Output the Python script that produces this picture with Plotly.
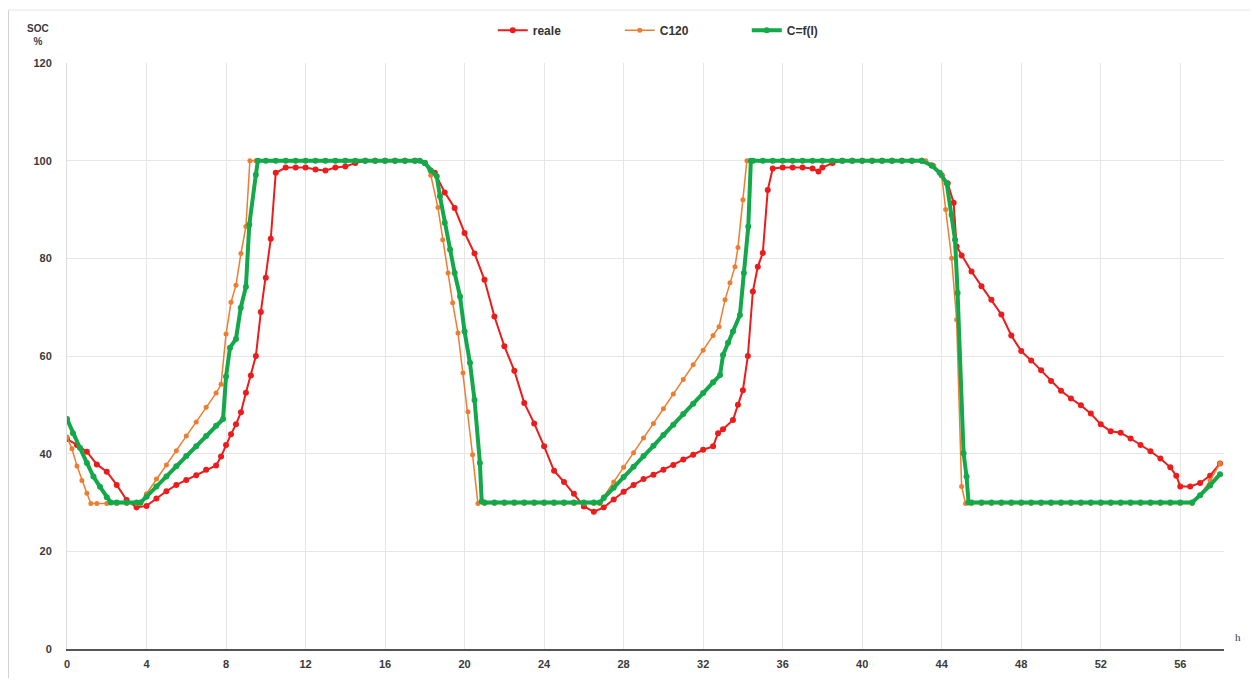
import plotly.graph_objects as go

# ---- data (time in h, SOC in %) ----
reale_t = [0, 0.5, 1, 1.5, 2, 2.5, 3, 3.5, 4, 4.5, 5, 5.5, 6, 6.5, 7, 7.5, 7.75, 8, 8.25, 8.5,
           8.75, 9, 9.25, 9.5, 9.75, 10, 10.25, 10.5, 11, 11.5, 12, 12.5, 13, 13.5, 14, 14.5,
           15, 15.5, 16, 16.5, 17, 17.5, 18, 18.5, 19, 19.5, 20, 20.5, 21, 21.5, 22, 22.5,
           23, 23.5, 24, 24.5, 25, 25.5, 26, 26.5, 27, 27.5, 28, 28.5, 29, 29.5, 30, 30.5,
           31, 31.5, 32, 32.5, 32.75, 33, 33.5, 33.75, 34, 34.25, 34.5, 34.75, 35, 35.25,
           35.5, 36, 36.5, 37, 37.5, 37.8, 38, 38.5, 39, 39.5, 40, 40.5, 41, 41.5, 42, 42.5,
           43, 43.5, 44, 44.3, 44.6, 44.75, 45, 45.5, 46, 46.5, 47, 47.5, 48, 48.5, 49, 49.5,
           50, 50.5, 51, 51.5, 52, 52.5, 53, 53.5, 54, 54.5, 55, 55.5, 55.8, 56, 56.5, 57,
           57.5, 58]
reale_v = [43, 41.8, 40.4, 37.8, 36.3, 33.6, 30.5, 29.0, 29.3, 30.8, 32.3, 33.6, 34.6, 35.6,
           36.7, 37.6, 39.4, 41.8, 44.0, 46.0, 48.5, 52.5, 56.0, 60.0, 69.0, 76.0, 84.0, 97.5,
           98.6, 98.6, 98.6, 98.2, 98.0, 98.6, 98.8, 99.5, 100, 100, 100, 100, 100, 100, 99.5,
           97.5, 93.5, 90.3, 85.2, 81.0, 75.6, 68.1, 62.0, 57.0, 50.4, 46.2, 41.5, 36.5, 34.2,
           31.8, 29.2, 28.1, 29.0, 30.6, 32.2, 33.6, 34.8, 35.7, 36.7, 37.7, 38.8, 39.8, 40.8,
           41.5, 44.2, 45.0, 46.9, 50.0, 53.0, 60.0, 73.2, 78.3, 81.1, 94.0, 98.4, 98.6, 98.6,
           98.6, 98.4, 97.8, 98.6, 99.5, 100, 100, 100, 100, 100, 100, 100, 100, 100, 99.0,
           97.0, 95.4, 91.4, 82.4, 80.6, 77.3, 74.3, 71.5, 68.5, 64.2, 61.0, 59.1, 57.1, 54.9,
           52.9, 51.3, 49.9, 48.2, 46.0, 44.6, 44.3, 43.1, 41.8, 40.5, 39.0, 37.2, 35.5, 33.3,
           33.3, 34.0, 35.5, 38.0]

c120_t = [0, 0.25, 0.5, 0.75, 1, 1.2, 1.5, 2, 2.5, 3, 3.5, 3.7, 4, 4.5, 5, 5.5, 6, 6.5, 7,
          7.5, 7.75, 8, 8.25, 8.5, 8.75, 9, 9.2, 9.5, 10, 10.5, 11, 11.5, 12, 12.5, 13, 13.5,
          14, 14.5, 15, 15.5, 16, 16.5, 17, 17.5, 17.75, 18, 18.3, 18.66, 18.9, 19.17, 19.4,
          19.67, 19.92, 20.17, 20.4, 20.67, 21, 21.5, 22, 22.5, 23, 23.5, 24, 24.5, 25, 25.5,
          26, 26.5, 26.8, 27, 27.5, 28, 28.5, 29, 29.5, 30, 30.5, 31, 31.5, 32, 32.5, 32.8,
          33.1, 33.35, 33.6, 33.75, 34, 34.2, 34.5, 35, 35.5, 36, 36.5, 37, 37.5, 38, 38.5,
          39, 39.5, 40, 40.5, 41, 41.5, 42, 42.5, 43, 43.2, 43.6, 44, 44.2, 44.5, 44.75, 45,
          45.2, 45.5, 46, 46.5, 47, 47.5, 48, 48.5, 49, 49.5, 50, 50.5, 51, 51.5, 52, 52.5,
          53, 53.5, 54, 54.5, 55, 55.5, 56, 56.6, 57, 57.5, 58]
c120_v = [43.4, 41.0, 37.5, 34.5, 31.9, 29.8, 29.8, 29.8, 29.8, 29.8, 29.8, 29.8, 31.8, 34.8,
          37.7, 40.6, 43.6, 46.5, 49.5, 52.4, 54.2, 64.5, 71.0, 74.5, 81.0, 86.5, 100, 100,
          100, 100, 100, 100, 100, 100, 100, 100, 100, 100, 100, 100, 100, 100, 100, 100, 100,
          99.5, 97.0, 90.4, 83.8, 77.0, 70.9, 64.7, 56.5, 48.6, 39.8, 29.8, 29.8, 29.8, 29.8,
          29.8, 29.8, 29.8, 29.8, 29.8, 29.8, 29.8, 29.8, 29.8, 29.8, 31.2, 34.2, 37.2, 40.2,
          43.2, 46.2, 49.2, 52.2, 55.2, 58.2, 61.2, 64.2, 66.0, 71.5, 75.0, 78.3, 82.2, 92.0,
          100, 100, 100, 100, 100, 100, 100, 100, 100, 100, 100, 100, 100, 100, 100, 100, 100,
          100, 100, 100, 99.0, 97.0, 90.0, 80.0, 67.4, 33.3, 29.8, 29.8, 29.8, 29.8, 29.8,
          29.8, 29.8, 29.8, 29.8, 29.8, 29.8, 29.8, 29.8, 29.8, 29.8, 29.8, 29.8, 29.8, 29.8,
          29.8, 29.8, 29.8, 29.8, 29.8, 31.5, 34.5, 38.0]

cfi_t = [0, 0.3, 0.65, 1, 1.33, 1.66, 2, 2.2, 2.5, 3, 3.5, 3.7, 4, 4.5, 5, 5.5, 6, 6.5, 7,
         7.5, 7.85, 8, 8.2, 8.5, 8.74, 9, 9.17, 9.5, 9.6, 10, 10.5, 11, 11.5, 12, 12.5, 13,
         13.5, 14, 14.5, 15, 15.5, 16, 16.5, 17, 17.5, 17.75, 18, 18.3, 18.6, 18.76, 19,
         19.27, 19.5, 19.77, 20, 20.27, 20.5, 20.77, 20.86, 21, 21.5, 22, 22.5, 23, 23.5, 24,
         24.5, 25, 25.5, 26, 26.5, 26.8, 27, 27.5, 28, 28.5, 29, 29.5, 30, 30.5, 31, 31.5, 32,
         32.5, 32.85, 33, 33.25, 33.5, 33.85, 34.05, 34.27, 34.4, 34.5, 35, 35.5, 36, 36.5,
         37, 37.5, 38, 38.5, 39, 39.5, 40, 40.5, 41, 41.5, 42, 42.5, 43, 43.5, 43.9, 44.25,
         44.5, 44.67, 44.8, 45.1, 45.25, 45.35, 45.5, 46, 46.5, 47, 47.5, 48, 48.5, 49, 49.5,
         50, 50.5, 51, 51.5, 52, 52.5, 53, 53.5, 54, 54.5, 55, 55.5, 56, 56.6, 57, 57.5, 58]
cfi_v = [47.1, 44.2, 41.2, 38.1, 35.3, 33.2, 31.1, 30, 30, 30, 30, 30, 31.2, 33.3, 35.3, 37.4,
         39.5, 41.5, 43.6, 45.7, 47.1, 55.8, 61.7, 63.5, 69.9, 74.2, 86.9, 97.1, 100, 100, 100,
         100, 100, 100, 100, 100, 100, 100, 100, 100, 100, 100, 100, 100, 100, 100, 99.5, 98.0,
         96.8, 92.7, 87.3, 81.8, 77.0, 72.2, 65.0, 58.6, 51.0, 38.1, 30.2, 30, 30, 30, 30, 30,
         30, 30, 30, 30, 30, 30, 30, 30, 30.9, 33.0, 35.2, 37.3, 39.5, 41.6, 43.8, 45.9, 48.1,
         50.2, 52.4, 54.6, 56.1, 60.2, 62.7, 65.0, 68.4, 77.0, 86.5, 100, 100, 100, 100, 100,
         100, 100, 100, 100, 100, 100, 100, 100, 100, 100, 100, 100, 100, 100, 99.0, 97.5,
         95.4, 88.9, 83.8, 72.9, 40.1, 35.3, 30, 30, 30, 30, 30, 30, 30, 30, 30, 30, 30, 30,
         30, 30, 30, 30, 30, 30, 30, 30, 30, 30, 30, 30, 31.5, 33.5, 35.8]

x_ticks = [0, 4, 8, 12, 16, 20, 24, 28, 32, 36, 40, 44, 48, 52, 56]
y_ticks = [0, 20, 40, 60, 80, 100, 120]

RED = "#ec1c1c"
ORANGE = "#ed7d31"
GREEN = "#13a84a"

fig = go.Figure()
fig.add_trace(go.Scatter(x=reale_t, y=reale_v, name="reale", mode="lines+markers",
                         line=dict(color=RED, width=2),
                         marker=dict(color=RED, size=6, symbol="circle")))
fig.add_trace(go.Scatter(x=c120_t, y=c120_v, name="C120", mode="lines+markers",
                         line=dict(color=ORANGE, width=1.5),
                         marker=dict(color=ORANGE, size=5, symbol="circle")))
fig.add_trace(go.Scatter(x=cfi_t, y=cfi_v, name="C=f(I)", mode="lines+markers",
                         line=dict(color=GREEN, width=4),
                         marker=dict(color=GREEN, size=6, symbol="circle")))

FONT = "Liberation Sans, Arial, sans-serif"
tickfont = dict(family=FONT, size=11, color="#3a3a3a", weight="bold")

# The page has an 8px body margin; figure is sized/placed so the plot area
# lands on the same pixels as the reference.
fig.update_layout(
    width=1243, height=670,
    margin=dict(l=59, r=27, t=55, b=29, autoexpand=False),
    paper_bgcolor="white", plot_bgcolor="white",
    showlegend=True,
    legend=dict(orientation="h", x=0.368, y=1.056, xanchor="left", yanchor="middle",
                font=dict(family=FONT, size=12, color="#333333", weight="bold"),
                itemwidth=30, entrywidth=82, entrywidthmode="pixels",
                bgcolor="rgba(0,0,0,0)"),
    xaxis=dict(range=[0, 58.2], tickmode="array", tickvals=x_ticks,
               ticktext=[str(v) for v in x_ticks], automargin=False,
               showgrid=True, gridcolor="#e6e6e6", gridwidth=1, zeroline=False,
               showline=True, linecolor="#555555", linewidth=1.5,
               ticks="outside", ticklen=4, tickcolor="rgba(0,0,0,0)",
               tickfont=tickfont),
    yaxis=dict(range=[0, 120], tickmode="array", tickvals=y_ticks,
               ticktext=[str(v) for v in y_ticks], automargin=False,
               showgrid=True, gridcolor="#e6e6e6", gridwidth=1, zeroline=False,
               showline=True, linecolor="#dddddd", linewidth=1,
               ticks="outside", ticklen=12, tickcolor="rgba(0,0,0,0)",
               tickfont=tickfont),
    annotations=[
        dict(text="SOC<br>%", xref="paper", yref="paper", x=-0.025, y=1.048,
             xanchor="center", yanchor="middle", showarrow=False, align="center",
             font=dict(family=FONT, size=10, color="#3a3a3a", weight="bold")),
        dict(text="h", xref="paper", yref="paper", x=1.012, y=0.0205,
             xanchor="center", yanchor="middle", showarrow=False,
             font=dict(family="Liberation Serif, serif", size=11, color="#3a3a3a")),
    ],
    shapes=[
        dict(type="line", xref="paper", yref="paper", x0=-0.0506, x1=-0.0506,
             y0=-0.06, y1=1.0904, line=dict(color="#d0d0d0", width=1)),
        dict(type="line", xref="paper", yref="paper", x0=-0.0506, x1=1.023,
             y0=1.0904, y1=1.0904, line=dict(color="#e4e4e4", width=1)),
    ],
)

fig.write_html("out.html")
